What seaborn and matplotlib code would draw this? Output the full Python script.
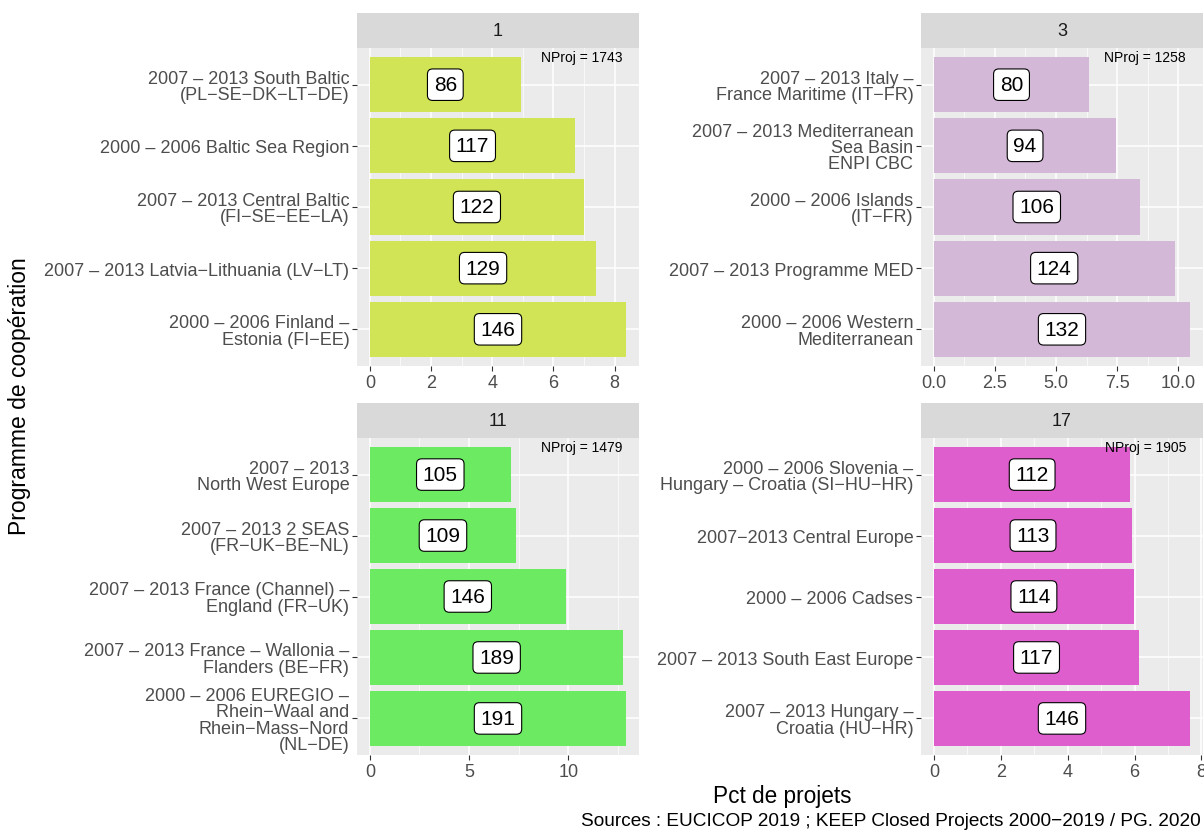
import pandas as pd
import matplotlib.pyplot as plt
from matplotlib.patches import Rectangle
from matplotlib.ticker import MultipleLocator
import seaborn as sns

sns.set_theme(style="darkgrid", rc={
    "axes.facecolor": "#EBEBEB",
    "grid.color": "white",
    "axes.edgecolor": "#EBEBEB",
})
plt.rcParams['font.family'] = ['Liberation Sans', 'DejaVu Sans']

# facettes (zones de coopération)
facets = ["1", "3", "11", "17"]
nproj = [1743, 1258, 1479, 1905]
colors = ["#D1E456", "#D3B8D7", "#6CEB62", "#DE5ECD"]

prog_1 = ["2007 – 2013 South Baltic\n(PL−SE−DK−LT−DE)",
          "2000 – 2006 Baltic Sea Region",
          "2007 – 2013 Central Baltic\n(FI−SE−EE−LA)",
          "2007 – 2013 Latvia−Lithuania (LV−LT)",
          "2000 – 2006 Finland –\nEstonia (FI−EE)"]
count_1 = [86, 117, 122, 129, 146]

prog_3 = ["2007 – 2013 Italy –\nFrance Maritime (IT−FR)",
          "2007 – 2013 Mediterranean\nSea Basin\nENPI CBC",
          "2000 – 2006 Islands\n(IT−FR)",
          "2007 – 2013 Programme MED",
          "2000 – 2006 Western\nMediterranean"]
count_3 = [80, 94, 106, 124, 132]

prog_11 = ["2007 – 2013\nNorth West Europe",
           "2007 – 2013 2 SEAS\n(FR−UK−BE−NL)",
           "2007 – 2013 France (Channel) –\nEngland (FR−UK)",
           "2007 – 2013 France – Wallonia –\nFlanders (BE−FR)",
           "2000 – 2006 EUREGIO –\nRhein−Waal and\nRhein−Mass−Nord\n(NL−DE)"]
count_11 = [105, 109, 146, 189, 191]

prog_17 = ["2000 – 2006 Slovenia –\nHungary – Croatia (SI−HU−HR)",
           "2007−2013 Central Europe",
           "2000 – 2006 Cadses",
           "2007 – 2013 South East Europe",
           "2007 – 2013 Hungary –\nCroatia (HU−HR)"]
count_17 = [112, 113, 114, 117, 146]

progs = [prog_1, prog_3, prog_11, prog_17]
counts = [count_1, count_3, count_11, count_17]

W, H = 1204, 837
# (gauche, droite, haut, bas) en pixels
boxes = [(357, 639, 49, 367), (921, 1203, 49, 367),
         (357, 639, 439, 756), (921, 1203, 439, 756)]
steps = [2, 2.5, 5, 2]
strip_h = 35

fig = plt.figure(figsize=(W / 100, H / 100), dpi=100)

for k in range(4):
    l, r, t, b = boxes[k]
    ax = fig.add_axes([l / W, 1 - b / H, (r - l) / W, (b - t) / H])
    df = pd.DataFrame({"prog": progs[k], "n": counts[k]})
    df["pct"] = df["n"] / nproj[k] * 100
    sns.barplot(data=df, x="pct", y="prog", orient="h", color=colors[k],
                saturation=1, width=0.9, linewidth=0, ax=ax)
    rmax = df["pct"].max()
    ax.set_xlim(-0.05 * rmax, 1.05 * rmax)
    ax.set_ylim(4.6, -0.6)
    ax.set_xlabel("")
    ax.set_ylabel("")
    ax.xaxis.set_major_locator(MultipleLocator(steps[k]))
    ax.xaxis.set_minor_locator(MultipleLocator(steps[k] / 2))
    if k == 1:
        ax.xaxis.set_major_formatter(lambda v, p: f"{v:.1f}")
    ax.grid(True, axis="x", which="major", color="white", lw=1.1)
    ax.grid(True, axis="x", which="minor", color="white", lw=0.5)
    ax.grid(True, axis="y", which="major", color="white", lw=1.1)
    ax.set_axisbelow(True)
    for s in ax.spines.values():
        s.set_visible(False)
    ax.tick_params(axis="both", which="major", length=3.5, width=0.8,
                   color="#333333", labelcolor="#4D4D4D", labelsize=13,
                   pad=2, bottom=True, left=True)
    ax.tick_params(axis="both", which="minor", length=0)
    for lab in ax.get_yticklabels():
        lab.set_linespacing(0.95)

    for i, row in df.iterrows():
        ax.text(row["pct"] / 2, i, str(row["n"]), ha="center", va="center",
                fontsize=15, color="black",
                bbox=dict(boxstyle="round,pad=0.3,rounding_size=0.25",
                          fc="white", ec="black", lw=0.8))
    ax.annotate(f"NProj = {nproj[k]}", (rmax, -0.45), xytext=(-3, 0),
                textcoords="offset points", ha="right", va="center",
                fontsize=10, color="black")

    sh = strip_h / (b - t)
    ax.add_patch(Rectangle((0, 1), 1, sh, transform=ax.transAxes,
                           fc="#D9D9D9", ec="none", clip_on=False))
    ax.text(0.5, 1 + sh / 2, facets[k], transform=ax.transAxes,
            ha="center", va="center", fontsize=13, color="#1A1A1A")

fig.text(782 / W, 1 - 797 / H, "Pct de projets", ha="center", va="center",
         fontsize=16.3, color="black")
fig.text(20 / W, 1 - 396 / H, "Programme de coopération", rotation=90,
         ha="center", va="center", fontsize=16.5, color="black")
fig.text(1201 / W, 1 - 822 / H,
         "Sources : EUCICOP 2019 ; KEEP Closed Projects 2000−2019 / PG. 2020",
         ha="right", va="center", fontsize=13.7, color="black")

fig.savefig("out.png", dpi=100)
